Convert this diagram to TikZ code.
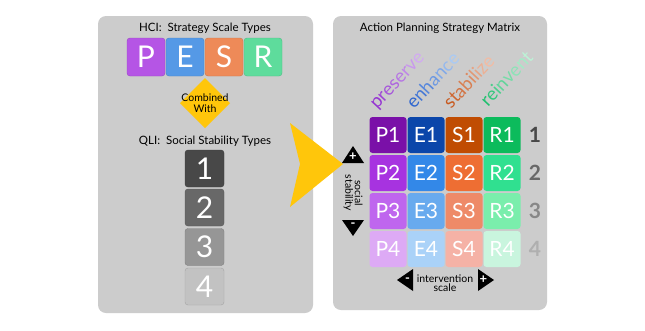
\documentclass[tikz,border=0pt]{standalone}
\usepackage{fontspec}
\setmainfont{Lato}
\begin{document}
\begin{tikzpicture}[x=1pt,y=-1pt,
  panel/.style={fill=panelgray, rounded corners=8pt},
  bigtile/.style={rounded corners=3pt, minimum width=38pt, minimum height=38pt, inner sep=0pt, text=white, font=\fontsize{30}{30}\selectfont},
  numtile/.style={rounded corners=3pt, minimum width=39pt, minimum height=37pt, inner sep=0pt, text=white, font=\fontsize{30}{30}\selectfont},
  cell/.style={rounded corners=3pt, minimum width=37pt, minimum height=36pt, inner sep=0pt, text=white, font=\fontsize{21}{21}\selectfont},
  rowlab/.style={font=\bfseries\fontsize{21}{21}\selectfont},
  title/.style={font=\fontsize{11.5}{13}\selectfont, text=black},
  word/.style={anchor=base west, rotate=47, font=\fontsize{18.5}{18.5}\selectfont, inner sep=0pt},
  small/.style={font=\fontsize{10.5}{10.5}\selectfont, align=center, inner sep=0pt},
  axis/.style={font=\fontsize{10.5}{9.5}\selectfont, align=center, inner sep=0pt},
  tri/.style={fill=black},
  sign/.style={text=white, font=\bfseries\fontsize{13}{13}\selectfont, inner sep=0pt}
]
\definecolor{panelgray}{HTML}{CCCCCC}
\definecolor{gold}{HTML}{FFC60B}
\definecolor{cP}{HTML}{B555E5}\definecolor{cE}{HTML}{5599E6}
\definecolor{cS}{HTML}{EE8A58}\definecolor{cR}{HTML}{5EDC9C}
\definecolor{pA}{HTML}{7A10A8}\definecolor{pB}{HTML}{A733E0}\definecolor{pC}{HTML}{BF66EE}\definecolor{pD}{HTML}{DDAAF5}
\definecolor{eA}{HTML}{0B46AA}\definecolor{eB}{HTML}{3388E8}\definecolor{eC}{HTML}{68AAEE}\definecolor{eD}{HTML}{AAD2F8}
\definecolor{sA}{HTML}{C04C02}\definecolor{sB}{HTML}{EE6E33}\definecolor{sC}{HTML}{EE8A68}\definecolor{sD}{HTML}{F5B2A6}
\definecolor{rA}{HTML}{0CBB5C}\definecolor{rB}{HTML}{30E090}\definecolor{rC}{HTML}{7AEEAC}\definecolor{rD}{HTML}{C9F5DE}
\definecolor{nA}{HTML}{484848}\definecolor{nB}{HTML}{686868}\definecolor{nC}{HTML}{969696}\definecolor{nD}{HTML}{C2C2C2}
\definecolor{wpA}{HTML}{9535D2}\definecolor{wpB}{HTML}{D2AAF2}
\definecolor{weA}{HTML}{2F66D0}\definecolor{weB}{HTML}{AACAF4}
\definecolor{wsA}{HTML}{C85A20}\definecolor{wsB}{HTML}{F2BCA4}
\definecolor{wrA}{HTML}{1EC06E}\definecolor{wrB}{HTML}{BCF2D6}

\useasboundingbox (0,0) rectangle (645,330);
\fill[white] (0,0) rectangle (645,330);

% panels
\fill[panel] (98,16) rectangle (313,313);
\fill[panel] (333,16) rectangle (547,310);

% left panel
\node[title] (t1) at (205,28) {HCI:\ \ Strategy Scale Types};
\node[bigtile, fill=cP, draw=cP!85!black] (P) at (146,57) {P};
\node[bigtile, fill=cE, draw=cE!85!black] (E) at (185,57) {E};
\node[bigtile, fill=cS, draw=cS!85!black] (S) at (224,57) {S};
\node[bigtile, fill=cR, draw=cR!85!black] (R) at (263,57) {R};

\fill[gold] (205,78) -- (230,103) -- (205,128) -- (180,103) -- cycle;
\node[small] (cw) at (205,103) {Combined\\With};

\node[title] (t2) at (205,141) {QLI:\ \ Social Stability Types};
\node[numtile, fill=nA, draw=nA!85!black] (n1) at (204.5,168.5) {1};
\node[numtile, fill=nB, draw=nB!85!black] (n2) at (204.5,207.5) {2};
\node[numtile, fill=nC, draw=nC!85!black] (n3) at (204.5,247) {3};
\node[numtile, fill=nD, draw=nD!85!black] (n4) at (204.5,286.5) {4};

% chevron
\fill[gold] (290,123) -- (343,164) -- (290,207) -- (300,164) -- cycle;

% right panel
\node[title] (t3) at (440,28) {Action Planning Strategy Matrix};
\node[word] (wp) at (377,110) {{\color{wpA!100!wpB}p}{\color{wpA!86!wpB}r}{\color{wpA!72!wpB}e}{\color{wpA!58!wpB}s}{\color{wpA!44!wpB}e}{\color{wpA!30!wpB}r}{\color{wpA!15!wpB}v}{\color{wpA!0!wpB}e}};
\node[word] (we) at (414,110) {{\color{weA!100!weB}e}{\color{weA!83!weB}n}{\color{weA!67!weB}h}{\color{weA!50!weB}a}{\color{weA!33!weB}n}{\color{weA!17!weB}c}{\color{weA!0!weB}e}};
\node[word] (ws) at (451,110) {{\color{wsA!100!wsB}s}{\color{wsA!87!wsB}t}{\color{wsA!75!wsB}a}{\color{wsA!62!wsB}b}{\color{wsA!50!wsB}i}{\color{wsA!37!wsB}l}{\color{wsA!25!wsB}i}{\color{wsA!12!wsB}z}{\color{wsA!0!wsB}e}};
\node[word] (wr) at (488,108) {{\color{wrA!100!wrB}r}{\color{wrA!86!wrB}e}{\color{wrA!72!wrB}i}{\color{wrA!58!wrB}n}{\color{wrA!44!wrB}v}{\color{wrA!30!wrB}e}{\color{wrA!15!wrB}n}{\color{wrA!0!wrB}t}};

\node[cell, fill=pA] (P1) at (388,135) {P1};
\node[cell, fill=eA] (E1) at (426,135) {E1};
\node[cell, fill=sA] (S1) at (464,135) {S1};
\node[cell, fill=rA] (R1) at (502,135) {R1};
\node[cell, fill=pB] (P2) at (388,173) {P2};
\node[cell, fill=eB] (E2) at (426,173) {E2};
\node[cell, fill=sB] (S2) at (464,173) {S2};
\node[cell, fill=rB] (R2) at (502,173) {R2};
\node[cell, fill=pC] (P3) at (388,211) {P3};
\node[cell, fill=eC] (E3) at (426,211) {E3};
\node[cell, fill=sC] (S3) at (464,211) {S3};
\node[cell, fill=rC] (R3) at (502,211) {R3};
\node[cell, fill=pD] (P4) at (388,249) {P4};
\node[cell, fill=eD] (E4) at (426,249) {E4};
\node[cell, fill=sD] (S4) at (464,249) {S4};
\node[cell, fill=rD] (R4) at (502,249) {R4};

\node[rowlab, text=nA] (l1) at (535,135) {1};
\node[rowlab, text=nB] (l2) at (535,173) {2};
\node[rowlab, text=nC!90!black] (l3) at (535,211) {3};
\node[rowlab, text=nD!90!black] (l4) at (535,249) {4};

% social stability axis
\fill[tri] (342,163) -- (353,146) -- (364,163) -- cycle;
\node[sign] (up) at (353,157) {+};
\fill[tri] (342,220) -- (364,220) -- (353,236) -- cycle;
\node[sign] (dn) at (353,225.5) {-};
\node[axis, rotate=-90] (ss) at (353,193) {social\\stability};

% intervention scale axis
\fill[tri] (413,269) -- (413,291) -- (397,280) -- cycle;
\node[sign] (lf) at (407.5,280) {-};
\fill[tri] (478,269) -- (478,291) -- (494,280) -- cycle;
\node[sign] (rt) at (483.5,280) {+};
\node[axis] (is) at (445,283) {intervention\\scale};
\end{tikzpicture}
\end{document}
